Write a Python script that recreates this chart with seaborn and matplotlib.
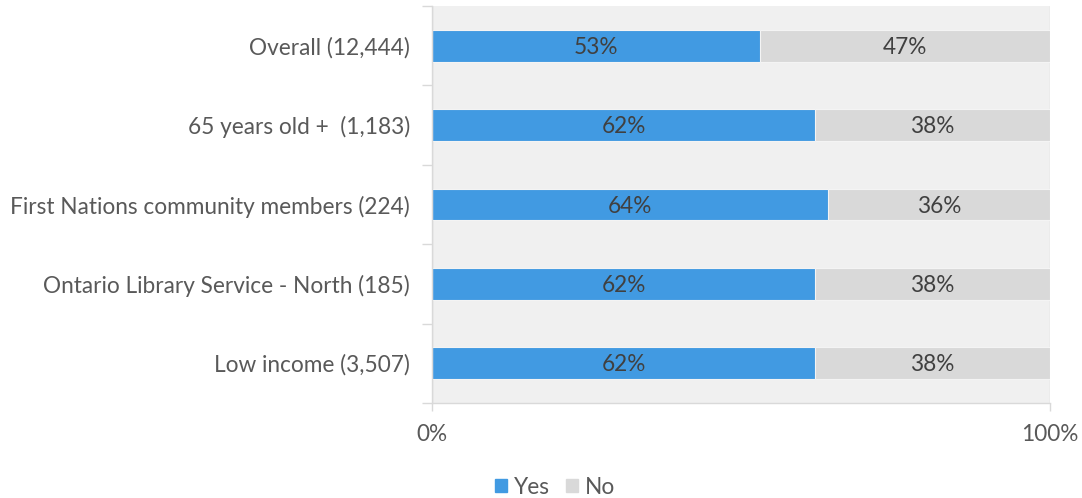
import matplotlib
matplotlib.use("Agg")
import matplotlib.pyplot as plt
from matplotlib.patches import Patch
from matplotlib.ticker import FixedLocator
import seaborn as sns
import pandas as pd

categories = [
    "Overall (12,444)",
    "65 years old +  (1,183)",
    "First Nations community members (224)",
    "Ontario Library Service - North (185)",
    "Low income (3,507)",
]
yes_pct = [53, 62, 64, 62, 62]
no_pct = [47, 38, 36, 38, 38]
x_ticks = [0, 100]
x_tick_labels = ["0%", "100%"]

BLUE = "#419AE2"
GREY = "#D9D9D9"
TEXT = "#595959"
FS = 16.3

sns.set_theme(style="white")
plt.rcParams["font.family"] = ["Lato", "DejaVu Sans"]

df = pd.DataFrame({"category": categories, "yes": yes_pct, "no": no_pct})
df["total"] = df["yes"] + df["no"]

fig = plt.figure(figsize=(10.82, 4.98), dpi=100)
ax = fig.add_axes([0.3993, 0.1908, 0.5711, 0.797])
ax.set_facecolor("#F0F0F0")

# stacked bars: full width in grey, "Yes" share laid over it in blue
sns.barplot(data=df, y="category", x="total", orient="h", color=GREY,
            width=0.4, edgecolor="#F4F4F4", linewidth=0.8, ax=ax,
            saturation=1)
sns.barplot(data=df, y="category", x="yes", orient="h", color=BLUE,
            width=0.4, edgecolor="#F4F4F4", linewidth=0.8, ax=ax,
            saturation=1)

for i, (y, n) in enumerate(zip(yes_pct, no_pct)):
    ax.text(y / 2, i + 0.02, f"{y}%", ha="center", va="center",
            fontsize=FS, color="#404040")
    ax.text(y + n / 2, i + 0.02, f"{n}%", ha="center", va="center",
            fontsize=FS, color="#404040")

ax.set_xlim(0, 100)
ax.set_ylim(len(categories) - 0.5, -0.5)
ax.set_xticks(x_ticks)
ax.set_xticklabels(x_tick_labels, fontsize=FS, color=TEXT)
ax.tick_params(axis="x", which="major", length=6, width=1, color="#D9D9D9",
               pad=9, bottom=True)
ax.tick_params(axis="y", which="major", length=0, labelsize=FS,
               labelcolor=TEXT, pad=16)
ax.yaxis.set_minor_locator(FixedLocator([i - 0.5 for i in range(len(categories) + 1)]))
ax.tick_params(axis="y", which="minor", length=7, width=1, color="#D9D9D9", left=True)
ax.set_xlabel("")
ax.set_ylabel("")

ax.xaxis.grid(True, color="#D9D9D9", linewidth=1)
ax.set_axisbelow(True)
for side in ["top", "right"]:
    ax.spines[side].set_visible(False)
for side in ["left", "bottom"]:
    ax.spines[side].set_color("#D9D9D9")
    ax.spines[side].set_linewidth(1)

handles = [Patch(color=BLUE, label="Yes"), Patch(color=GREY, label="No")]
fig.legend(handles=handles, loc="lower center", bbox_to_anchor=(0.513, -0.04),
           ncol=2, frameon=False, fontsize=FS, labelcolor=TEXT,
           handlelength=0.55, handleheight=0.55, handletextpad=0.3,
           columnspacing=0.7)

fig.savefig("out.png", dpi=100)
